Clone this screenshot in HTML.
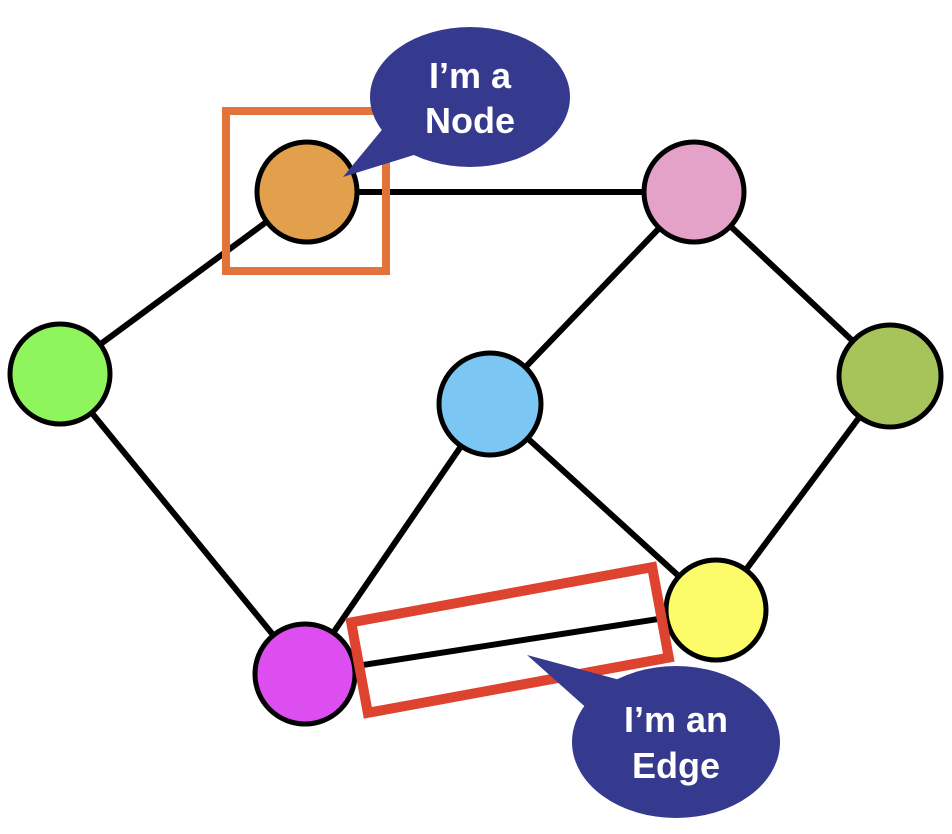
<!DOCTYPE html>
<html><head><style>body{margin:0;background:#fff}svg{display:block}</style></head>
<body>
<svg width="952" height="834" viewBox="0 0 952 834" xmlns="http://www.w3.org/2000/svg">
<g stroke="#000" stroke-width="6">
<line x1="307" y1="192" x2="694" y2="192"/>
<line x1="307" y1="192" x2="60" y2="374"/>
<line x1="60" y1="374" x2="305" y2="674"/>
<line x1="305" y1="674" x2="490" y2="404"/>
<line x1="305" y1="674" x2="716" y2="610"/>
<line x1="490" y1="404" x2="694" y2="192"/>
<line x1="490" y1="404" x2="716" y2="610"/>
<line x1="694" y1="192" x2="890" y2="376"/>
<line x1="890" y1="376" x2="716" y2="610"/>
</g>
<rect x="226" y="111" width="160" height="160" fill="none" stroke="#e2733a" stroke-width="8"/>
<g stroke="#000" stroke-width="5">
<circle cx="307" cy="192" r="50" fill="#e3a04c"/>
<circle cx="694" cy="192" r="50" fill="#e4a2c8"/>
<circle cx="60" cy="374" r="50" fill="#8ef65c"/>
<circle cx="490" cy="404" r="51" fill="#7bc6f2"/>
<circle cx="890" cy="376" r="51" fill="#a7c45a"/>
<circle cx="716" cy="610" r="50" fill="#fcfc6a"/>
<circle cx="305" cy="674" r="50" fill="#dd4ef0"/>
</g>
<rect x="357" y="594" width="306" height="92" fill="none" stroke="#de4330" stroke-width="10" transform="rotate(-10.4 510 640)"/>
<g fill="#363a8f">
<ellipse cx="470" cy="97" rx="100" ry="70"/>
<polygon points="343,177 390,120 430,150"/>
<ellipse cx="676" cy="742" rx="104" ry="76"/>
<polygon points="527,655 620,680 600,720"/>
</g>
<g fill="#fff" font-family="Liberation Sans, sans-serif" font-weight="bold" font-size="36" text-anchor="middle">
<text x="470" y="88">I’m a</text>
<text x="470" y="133">Node</text>
<text x="676" y="732">I’m an</text>
<text x="676" y="778">Edge</text>
</g>
</svg>
</body></html>
